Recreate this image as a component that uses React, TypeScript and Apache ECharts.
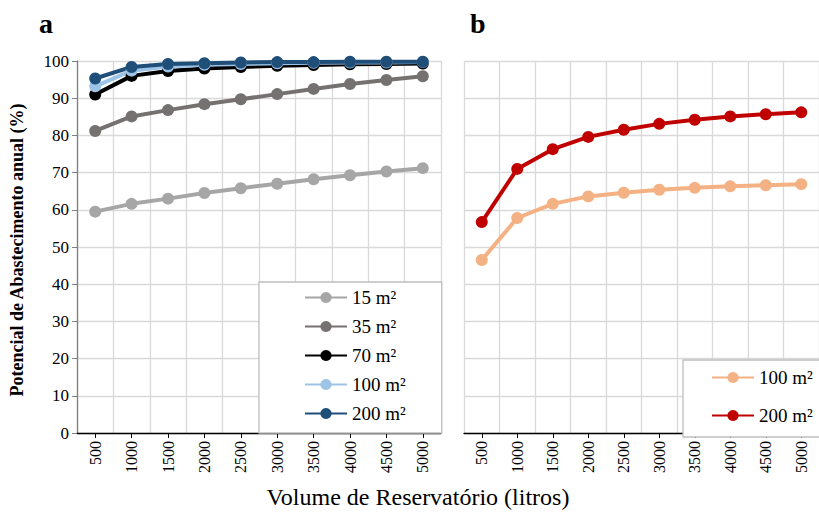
import React, { useEffect, useRef } from "react";
import * as echarts from "echarts";

const categories = ["500", "1000", "1500", "2000", "2500", "3000", "3500", "4000", "4500", "5000"];
const yTicks = [0, 10, 20, 30, 40, 50, 60, 70, 80, 90, 100];

const a15 = [59.5, 61.6, 63.0, 64.5, 65.8, 67.0, 68.2, 69.3, 70.3, 71.2];
const a35 = [81.2, 85.1, 86.8, 88.4, 89.7, 91.1, 92.5, 93.8, 94.9, 95.9];
const a70 = [91.0, 96.0, 97.3, 98.0, 98.4, 98.7, 98.9, 99.1, 99.2, 99.3];
const a100 = [93.2, 97.4, 98.5, 99.0, 99.2, 99.4, 99.5, 99.6, 99.6, 99.7];
const a200 = [95.3, 98.4, 99.2, 99.4, 99.6, 99.7, 99.7, 99.8, 99.8, 99.8];

const b100 = [46.5, 57.8, 61.6, 63.6, 64.6, 65.4, 65.9, 66.3, 66.6, 66.9];
const b200 = [56.7, 71.0, 76.3, 79.6, 81.5, 83.1, 84.2, 85.1, 85.7, 86.2];

const seriesA = [
  { name: "15 m²", data: a15, color: "#a6a6a6" },
  { name: "35 m²", data: a35, color: "#767171" },
  { name: "70 m²", data: a70, color: "#000000" },
  { name: "100 m²", data: a100, color: "#9dc3e6" },
  { name: "200 m²", data: a200, color: "#1f4e79" },
];
const seriesB = [
  { name: "b:100 m²", data: b100, color: "#f4b183" },
  { name: "b:200 m²", data: b200, color: "#c00000" },
];

const FONT = "Liberation Serif";

export default function App() {
  const ref = useRef<HTMLDivElement>(null);
  useEffect(() => {
    if (!ref.current) return;
    const chart = echarts.init(ref.current, undefined, { renderer: "svg" });
    const xAxisBase = (gridIndex: number) => ({
      type: "category",
      gridIndex,
      data: categories,
      boundaryGap: true,
      axisLine: { show: true, lineStyle: { color: "#000000", width: 1.3 } },
      axisTick: { show: true, alignWithLabel: true, length: 5, lineStyle: { color: "#000000" } },
      axisLabel: { rotate: 90, fontFamily: FONT, fontSize: 16, color: "#000000", margin: 8 },
      splitLine: { show: true, interval: 0, lineStyle: { color: "#d9d9d9", width: 1.3 } },
    });
    const yAxisBase = (gridIndex: number, showAxis: boolean) => ({
      type: "value",
      gridIndex,
      min: yTicks[0],
      max: yTicks[yTicks.length - 1],
      interval: 10,
      axisLine: { show: showAxis, lineStyle: { color: "#808080", width: 1.3 } },
      axisTick: { show: showAxis, length: 5, lineStyle: { color: "#808080" } },
      axisLabel: { show: showAxis, fontFamily: FONT, fontSize: 17, color: "#000000", margin: 8 },
      splitLine: { show: true, lineStyle: { color: "#d9d9d9", width: 1.3 } },
    });
    const mkSeries = (s: any, idx: number) => ({
      name: s.name,
      type: "line",
      xAxisIndex: idx,
      yAxisIndex: idx,
      data: s.data,
      symbol: "circle",
      symbolSize: 12,
      lineStyle: { color: s.color, width: 4 },
      itemStyle: { color: s.color },
    });
    const legendText = { fontFamily: FONT, fontSize: 19, color: "#000000" };
    chart.setOption({
      animation: false,
      backgroundColor: "#ffffff",
      grid: [
        { left: 77, right: 819 - 441, top: 61, bottom: 512 - 433 },
        { left: 464, right: 819 - 829, top: 61, bottom: 512 - 433 },
      ],
      xAxis: [xAxisBase(0), xAxisBase(1)],
      yAxis: [yAxisBase(0, true), yAxisBase(1, false)],
      legend: [
        {
          data: seriesA.map((s) => s.name),
          orient: "vertical",
          left: 259,
          top: 282,
          padding: [6, 36, 10, 45],
          itemWidth: 42,
          itemHeight: 14,
          itemGap: 10,
          backgroundColor: "#ffffff",
          borderColor: "#bfbfbf",
          borderWidth: 1.3,
          selectedMode: false,
          textStyle: legendText,
        },
        {
          data: seriesB.map((s) => s.name),
          orient: "vertical",
          left: 683,
          top: 360,
          padding: [8, 30, 12, 28],
          itemWidth: 42,
          itemHeight: 14,
          itemGap: 19,
          backgroundColor: "#ffffff",
          borderColor: "#bfbfbf",
          borderWidth: 1.3,
          selectedMode: false,
          formatter: (n: string) => n.replace("b:", ""),
          textStyle: legendText,
        },
      ],
      series: [...seriesA.map((s) => mkSeries(s, 0)), ...seriesB.map((s) => mkSeries(s, 1))],
      graphic: [
        { type: "text", left: 39, top: 9, style: { text: "a", font: `bold 28px ${FONT}`, fill: "#000" } },
        { type: "text", left: 470, top: 9, style: { text: "b", font: `bold 28px ${FONT}`, fill: "#000" } },
        {
          type: "text",
          x: 17,
          y: 250,
          rotation: Math.PI / 2,
          style: {
            text: "Potencial de Abastecimento anual (%)",
            font: `bold 18px ${FONT}`,
            fill: "#000",
            align: "center",
            verticalAlign: "middle",
          },
        },
        {
          type: "text",
          x: 418,
          y: 497,
          style: {
            text: "Volume de Reservatório (litros)",
            font: `24px ${FONT}`,
            fill: "#000",
            align: "center",
            verticalAlign: "middle",
          },
        },
      ],
    });
    return () => chart.dispose();
  }, []);
  return <div ref={ref} style={{ width: 819, height: 512, position: "absolute", left: 0, top: 0 }} />;
}
